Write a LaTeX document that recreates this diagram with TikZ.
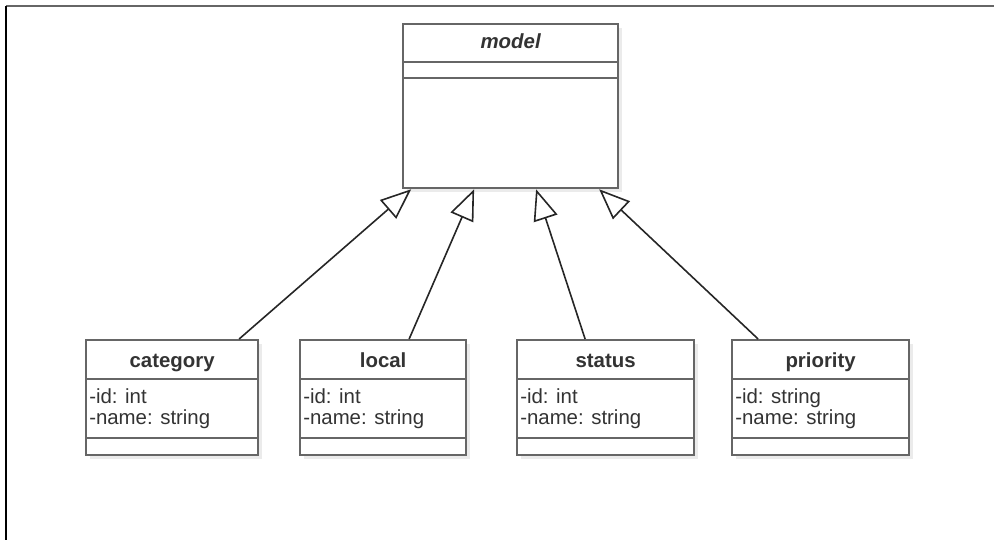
\documentclass[tikz,border=0pt]{standalone}
\usepackage{fontspec}
\setmainfont{Liberation Sans}
\usepackage{tikz}
\usetikzlibrary{arrows.meta,positioning,calc,shadows}
\tikzset{
  every node/.append style={font=\fontsize{15.3}{16}\selectfont, text=black!80},
}
\tikzset{
  classbox/.style={draw=black!60, line width=1.7pt, fill=white, inner sep=0pt, anchor=north west,
    drop shadow={shadow xshift=3pt, shadow yshift=-3pt, opacity=0.08, fill=black}},
  divider/.style={draw=black!60, line width=1.7pt},
  ctitle/.style={font=\fontsize{15.3}{16}\selectfont\bfseries, text height=1.6ex, text depth=0.4ex, inner sep=0pt},
  attr/.style={anchor=north west, align=left, inner sep=0pt},
  inherit/.style={-{Triangle[fill=white, length=23pt, width=18.5pt]}, line width=1.2pt, draw=black!85}
}
\begin{document}
\begin{tikzpicture}[x=0.75pt, y=-0.75pt]
\useasboundingbox (0,0) rectangle (994,540);

% frame
\draw[black!60, line width=1.5pt] (6,6) -- (994,6);
\draw[black, line width=1.1pt] (6,6) -- (6,540);

% abstract parent
\node[classbox, minimum width=161.25pt, minimum height=123pt] (model) at (402,23) {};
\node[ctitle, font=\fontsize{15.3}{16}\selectfont\bfseries\itshape] (modeltitle) at ($(model.north)+(0,21)$) {model};
\draw[divider] ($(model.north west)+(0,39)$) -- ($(model.north east)+(0,39)$);
\draw[divider] ($(model.north west)+(0,55)$) -- ($(model.north east)+(0,55)$);

% child classes
\node[classbox, minimum width=129pt, minimum height=86.25pt] (category) at (85,339) {};
\node[classbox, minimum width=124.5pt, minimum height=86.25pt] (local) at (299,339) {};
\node[classbox, minimum width=132.75pt, minimum height=86.25pt] (status) at (516,339) {};
\node[classbox, minimum width=132.75pt, minimum height=86.25pt] (priority) at (731,339) {};

\node[ctitle] (cattitle) at ($(category.north)+(0,24)$) {category};
\node[ctitle] (loctitle) at ($(local.north)+(0,24)$) {local};
\node[ctitle] (stattitle) at ($(status.north)+(0,24)$) {status};
\node[ctitle] (priotitle) at ($(priority.north)+(0,24)$) {priority};

\node[attr] (catattr) at ($(category.north west)+(4,49)$) {-id: int\\-name: string};
\node[attr] (locattr) at ($(local.north west)+(4,49)$) {-id: int\\-name: string};
\node[attr] (statattr) at ($(status.north west)+(4,49)$) {-id: int\\-name: string};
\node[attr] (prioattr) at ($(priority.north west)+(4,49)$) {-id: string\\-name: string};

% dividers
\foreach \c in {category,local,status,priority}{
  \draw[divider] ($(\c.north west)+(0,40)$) -- ($(\c.north east)+(0,40)$);
  \draw[divider] ($(\c.north west)+(0,99)$) -- ($(\c.north east)+(0,99)$);
}

% generalisation
\draw[inherit] ([xshift=50.25pt]category.north) -- ([xshift=-74.6pt]model.south);
\draw[inherit] ([xshift=19.5pt]local.north) -- ([xshift=-27.4pt]model.south);
\draw[inherit] ([xshift=-15.4pt]status.north) -- ([xshift=19.1pt]model.south);
\draw[inherit] ([xshift=-46.9pt]priority.north) -- ([xshift=66.4pt]model.south);

\end{tikzpicture}
\end{document}
